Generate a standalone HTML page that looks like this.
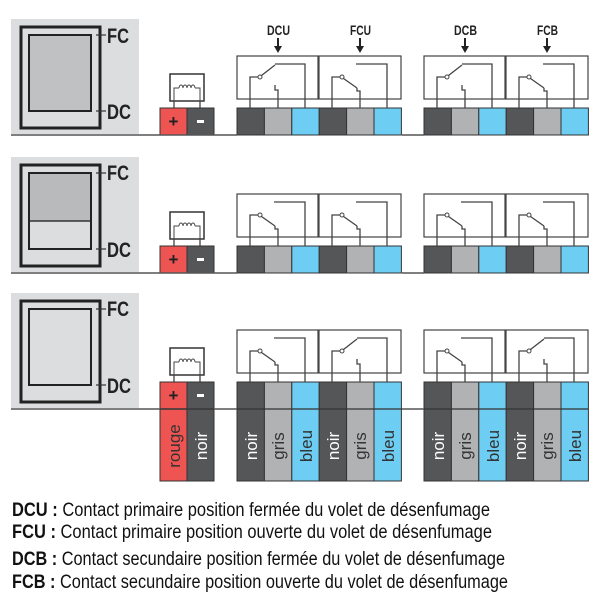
<!DOCTYPE html>
<html><head><meta charset="utf-8"><style>
html,body{margin:0;padding:0;background:#fff;}
svg{display:block;}
text{font-family:"Liberation Sans",sans-serif;}
</style></head><body>
<svg id="s" width="600" height="600" viewBox="0 0 600 600" xmlns="http://www.w3.org/2000/svg">
<g id="g"></g>
<g font-weight="bold" font-size="21" fill="#222">
<text x="107" y="43" textLength="22" lengthAdjust="spacingAndGlyphs">FC</text>
<text x="107" y="119" textLength="24" lengthAdjust="spacingAndGlyphs">DC</text>
<text x="107" y="180" textLength="22" lengthAdjust="spacingAndGlyphs">FC</text>
<text x="107" y="257" textLength="24" lengthAdjust="spacingAndGlyphs">DC</text>
<text x="107" y="316" textLength="22" lengthAdjust="spacingAndGlyphs">FC</text>
<text x="107" y="393" textLength="24" lengthAdjust="spacingAndGlyphs">DC</text>
</g>
<g font-weight="bold" font-size="14" fill="#222">
<text x="267" y="35" textLength="23" lengthAdjust="spacingAndGlyphs">DCU</text>
<text x="350" y="35" textLength="21" lengthAdjust="spacingAndGlyphs">FCU</text>
<text x="454" y="35" textLength="23" lengthAdjust="spacingAndGlyphs">DCB</text>
<text x="537" y="35" textLength="21" lengthAdjust="spacingAndGlyphs">FCB</text>
</g>
<g font-size="17" fill="#fff" text-anchor="middle">
<text transform="translate(180,446) rotate(-90)" fill="#333">rouge</text>
<text transform="translate(207,446) rotate(-90)">noir</text>
<text transform="translate(257,446) rotate(-90)">noir</text>
<text transform="translate(284,446) rotate(-90)" fill="#333">gris</text>
<text transform="translate(312,446) rotate(-90)" fill="#333">bleu</text>
<text transform="translate(339,446) rotate(-90)">noir</text>
<text transform="translate(366,446) rotate(-90)" fill="#333">gris</text>
<text transform="translate(394,446) rotate(-90)" fill="#333">bleu</text>
<text transform="translate(444,446) rotate(-90)">noir</text>
<text transform="translate(471,446) rotate(-90)" fill="#333">gris</text>
<text transform="translate(499,446) rotate(-90)" fill="#333">bleu</text>
<text transform="translate(526,446) rotate(-90)">noir</text>
<text transform="translate(553,446) rotate(-90)" fill="#333">gris</text>
<text transform="translate(581,446) rotate(-90)" fill="#333">bleu</text>
</g>
<g font-size="19" fill="#111">
<text x="12" y="516" textLength="478" lengthAdjust="spacingAndGlyphs"><tspan font-weight="bold">DCU : </tspan>Contact primaire position fermée du volet de désenfumage</text>
<text x="12" y="538" textLength="480" lengthAdjust="spacingAndGlyphs"><tspan font-weight="bold">FCU : </tspan>Contact primaire position ouverte du volet de désenfumage</text>
<text x="12" y="565" textLength="493" lengthAdjust="spacingAndGlyphs"><tspan font-weight="bold">DCB : </tspan>Contact secundaire position fermée du volet de désenfumage</text>
<text x="12" y="588" textLength="496" lengthAdjust="spacingAndGlyphs"><tspan font-weight="bold">FCB : </tspan>Contact secundaire position ouverte du volet de désenfumage</text>
</g>
</svg>
<script>
(function(){
var g=document.getElementById('g'),h='';
function R(x,y,w,hh,f,s,sw){h+='<rect x="'+x+'" y="'+y+'" width="'+w+'" height="'+hh+'" fill="'+f+'"'+(s?' stroke="'+s+'" stroke-width="'+(sw||1)+'"':'')+'/>';}
function P(d,s,w){h+='<path d="'+d+'" fill="none" stroke="'+(s||'#444')+'" stroke-width="'+(w||1.3)+'"/>';}
var D='#555658',G='#b1b2b4',B='#6dcdf3',RED='#ee5452';
var rows=[{b:135,th:27,inner:0,sw:['u','d','u','d']},{b:273,th:27,inner:1,sw:['d','d','d','d']},{b:409,th:99,inner:2,sw:['d','u','d','u']}];
var groups=[237,319,424,506];
rows.forEach(function(r){
 var b=r.b;
 R(11,b-116,128,115,'#dcdddf');
 if(r.inner==0) R(29,b-100,62,76,'#c0c1c3');
 if(r.inner==1){R(29,b-100,62,48,'#b9babc');P('M29 '+(b-52)+'H91','#333',1.5);}
 R(21,b-108,79,101,'none','#222',3);
 R(29,b-100,62,76,'none','#222',2);
 P('M96 '+(b-100)+'H106','#333',1.2);P('M96 '+(b-24)+'H106','#333',1.2);
 R(170,b-61,34,27,'#fff','#333',1.5);
 P('M174 '+(b-34)+'V'+(b-27)+'M200 '+(b-34)+'V'+(b-27));
 P('M174 '+(b-34)+'V'+(b-47)+'H179M200 '+(b-34)+'V'+(b-47)+'H195',null,1);
 var c='M179 '+(b-47);for(var i=0;i<4;i++){c+='a2 3 0 1 1 4 0';}
 P(c,null,1);
 groups.forEach(function(L,k){
  var T=b-79;
  R(L,T,(k%2==0?81:82),43,'#fff','#444',1.2);
 });
 R(160,b-27,27,r.th,RED,'#333',1);R(187,b-27,27,r.th,D,'#333',1);
 var cols=[D,G,B,D,G,B];
 [237,424].forEach(function(x0){for(var i=0;i<6;i++){R(x0+i*27.4,b-27,27.4,r.th,cols[i],'#333',1);}});
 P('M11 '+b+'H237M214 '+b+'H237M402 '+b+'H424','#555',1.5);
 if(r.th>27)P('M160 '+b+'H214M237 '+b+'H402M424 '+b+'H588','#333',1.2);
 h+='<text x="173.5" y="'+(b-8)+'" font-size="17" font-weight="bold" fill="#222" text-anchor="middle" font-family="Liberation Sans">+</text>';
 R(197,b-15,7,3,'#fff');
 groups.forEach(function(L,k){
  var T=b-79,tb=b-27,s=r.sw[k];
  P('M'+(L+13)+' '+tb+'V'+(T+21)+'H'+(L+21));
  h+='<circle cx="'+(L+23)+'" cy="'+(T+21)+'" r="2" fill="#fff" stroke="#444" stroke-width="1"/>';
  P('M'+(L+68)+' '+tb+'V'+(T+8)+'H'+(s=='u'?L+38:L+37));
  if(s=='u'){P('M'+(L+24.5)+' '+(T+19.5)+'L'+(L+38)+' '+(T+9));P('M'+(L+38)+' '+(T+29)+'V'+(T+34)+'H'+(L+41)+'V'+tb);}
  else{P('M'+(L+24.5)+' '+(T+22.5)+'L'+(L+38)+' '+(T+32));P('M'+(L+38)+' '+(T+32)+'V'+(T+35)+'H'+(L+41)+'V'+tb);}
 });
});
[278,360,465,547].forEach(function(x){P('M'+x+' 38V48','#222',2);h+='<path d="M'+(x-4)+' 46L'+(x+4)+' 46L'+x+' 53Z" fill="#222"/>';});
g.innerHTML=h;
})();
</script>
</body></html>
